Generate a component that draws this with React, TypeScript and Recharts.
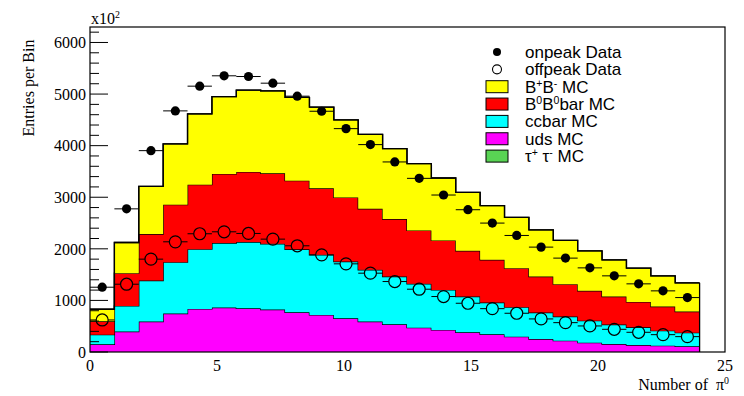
import { Area, ComposedChart, ReferenceLine, Scatter, XAxis, YAxis } from "recharts"

// 25 bins between 0 and 24
const binEdges = [
  0, 0.96, 1.92, 2.88, 3.84, 4.8, 5.76, 6.72, 7.68, 8.64, 9.6, 10.56, 11.52,
  12.48, 13.44, 14.4, 15.36, 16.32, 17.28, 18.24, 19.2, 20.16, 21.12, 22.08, 23.04, 24,
]

// MC contributions per bin (stacked bottom to top)
const udsMC = [149, 395, 589, 744, 835, 861, 848, 822, 771, 718, 653, 589, 537, 472, 427, 382, 343, 298, 252, 220, 181, 155, 136, 123, 110]
const ccbarMC = [187, 498, 796, 998, 1159, 1250, 1282, 1275, 1219, 1166, 1101, 1003, 926, 849, 777, 693, 615, 570, 512, 466, 427, 376, 344, 291, 265]
const b0b0barMC = [259, 635, 901, 1113, 1249, 1340, 1360, 1366, 1331, 1288, 1243, 1185, 1114, 1035, 958, 886, 829, 757, 699, 628, 577, 544, 491, 466, 408]
const bpbmMC = [234, 595, 924, 1178, 1372, 1501, 1585, 1599, 1614, 1573, 1503, 1443, 1365, 1295, 1211, 1133, 1051, 983, 906, 848, 776, 712, 654, 596, 557]
const tautauMC = [0, 0, 0, 0, 0, 0, 0, 0, 0, 0, 0, 0, 0, 0, 0, 0, 0, 0, 0, 0, 0, 0, 0, 0, 0]

const onpeakData = [1256, 2775, 3903, 4674, 5153, 5354, 5340, 5211, 4959, 4667, 4330, 4020, 3684, 3366, 3043, 2758, 2499, 2259, 2033, 1820, 1631, 1476, 1321, 1185, 1055]
const offpeakData = [621, 1314, 1800, 2136, 2292, 2330, 2298, 2188, 2059, 1884, 1709, 1528, 1366, 1217, 1075, 945, 840, 751, 641, 569, 505, 440, 382, 336, 298]

const xTicks = [0, 5, 10, 15, 20, 25]
const yTicks = [
  0, 200, 400, 600, 800, 1000, 1200, 1400, 1600, 1800, 2000, 2200, 2400, 2600, 2800, 3000,
  3200, 3400, 3600, 3800, 4000, 4200, 4400, 4600, 4800, 5000, 5200, 5400, 5600, 5800, 6000, 6200,
]

const W = 744
const H = 396
const margin = { top: 27, right: 19, bottom: 14, left: 0 }
const Y_AXIS_W = 90
const X_AXIS_H = 30
const X_MIN = 0
const X_MAX = 25
const Y_MAX = 6300
const PLOT_LEFT = margin.left + Y_AXIS_W
const PLOT_TOP = margin.top
const PLOT_W = W - PLOT_LEFT - margin.right
const PLOT_H = H - margin.top - margin.bottom - X_AXIS_H

const serif = "'Liberation Serif', 'DejaVu Serif', serif"
const sans = "'Liberation Sans', Arial, sans-serif"

const nBins = udsMC.length
// one row per bin edge; the closing edge repeats the last bin so the step ends at 24
const stackRows = binEdges.map((x, i) => {
  const b = Math.min(i, nBins - 1)
  return { x, uds: udsMC[b], ccbar: ccbarMC[b], b0: b0b0barMC[b], bpbm: bpbmMC[b], tau: tautauMC[b] }
})
const lastTotal = udsMC[nBins - 1] + ccbarMC[nBins - 1] + b0b0barMC[nBins - 1] + bpbmMC[nBins - 1] + tautauMC[nBins - 1]

const centers = onpeakData.map((_, i) => (binEdges[i] + binEdges[i + 1]) / 2)
const onpeakPts = onpeakData.map((y, i) => ({ x: centers[i], y }))
const offpeakPts = offpeakData.map((y, i) => ({ x: centers[i], y }))

// half bin width in pixels, for the horizontal error bars
const HALF_BIN_PX = ((binEdges[1] - binEdges[0]) / 2) * (PLOT_W / (X_MAX - X_MIN))

function DataMarker(props: any) {
  const { cx, cy, open } = props
  if (cx == null || cy == null) return null
  const r = open ? 6 : 4.6
  if (open) {
    return (
      <g>
        <line x1={cx - HALF_BIN_PX} x2={cx - r} y1={cy} y2={cy} stroke="#000" strokeWidth={1} />
        <line x1={cx + r} x2={cx + HALF_BIN_PX} y1={cy} y2={cy} stroke="#000" strokeWidth={1} />
        <circle cx={cx} cy={cy} r={r} fill="none" stroke="#000" strokeWidth={1.2} />
      </g>
    )
  }
  return (
    <g>
      <line x1={cx - HALF_BIN_PX} x2={cx + HALF_BIN_PX} y1={cy} y2={cy} stroke="#000" strokeWidth={1} />
      <circle cx={cx} cy={cy} r={r} fill="#000" />
    </g>
  )
}

// ticks point into the frame; labels only on the thousands
function YTick(props: any) {
  const { y, payload } = props
  const major = payload.value % 1000 === 0
  return (
    <g>
      <line x1={PLOT_LEFT} x2={PLOT_LEFT + (major ? 18 : 9)} y1={y} y2={y} stroke="#000" strokeWidth={1} />
      {major && (
        <text x={PLOT_LEFT - 4} y={y} dy="0.36em" textAnchor="end" style={{ fontFamily: serif, fontSize: 16 }} fill="#000">
          {payload.value}
        </text>
      )}
    </g>
  )
}

function XTick(props: any) {
  const { x, y, payload } = props
  return (
    <text x={x} y={y} dy="0.75em" textAnchor="middle" style={{ fontFamily: serif, fontSize: 16 }} fill="#000">
      {payload.value}
    </text>
  )
}

type Part = [string, "sup" | null]

const legendItems: { parts: Part[]; kind: "dot" | "circle" | "box"; color?: string }[] = [
  { parts: [["onpeak Data", null]], kind: "dot" },
  { parts: [["offpeak Data", null]], kind: "circle" },
  { parts: [["B", null], ["+", "sup"], ["B", null], ["-", "sup"], [" MC", null]], kind: "box", color: "#ffff00" },
  { parts: [["B", null], ["0", "sup"], ["B", null], ["0", "sup"], ["bar MC", null]], kind: "box", color: "#ff0000" },
  { parts: [["ccbar MC", null]], kind: "box", color: "#00ffff" },
  { parts: [["uds MC", null]], kind: "box", color: "#ff00ff" },
  { parts: [["\u03c4", null], ["+", "sup"], [" \u03c4", null], ["-", "sup"], [" MC", null]], kind: "box", color: "#59d454" },
]

function RichText({ parts, size }: { parts: Part[]; size: number }) {
  const lift = Math.round(size * 0.36)
  let up = false
  return (
    <>
      {parts.map(([t, kind], i) => {
        let dy = 0
        if (kind === "sup" && !up) {
          dy = -lift
          up = true
        } else if (kind !== "sup" && up) {
          dy = lift
          up = false
        }
        return (
          <tspan key={i} dy={dy} fontSize={kind === "sup" ? size * 0.62 : size} style={{ whiteSpace: "pre" }}>
            {t}
          </tspan>
        )
      })}
    </>
  )
}

function Overlay() {
  const legX = 497
  const legY0 = 52
  const legStep = 17.35
  return (
    <svg width={W} height={H} style={{ position: "absolute", left: 0, top: 0, pointerEvents: "none" }}>
      <rect x={PLOT_LEFT} y={PLOT_TOP} width={PLOT_W} height={PLOT_H} fill="none" stroke="#000" strokeWidth={1.2} />
      <text x={PLOT_LEFT + 1} y={24} style={{ fontFamily: serif }} fill="#000">
        <RichText parts={[["x10", null], ["2", "sup"]]} size={16} />
      </text>
      <text
        x={34}
        y={88}
        transform="rotate(-90 34 88)"
        textAnchor="middle"
        style={{ fontFamily: serif, fontSize: 16 }}
        fill="#000"
      >
        Entries per Bin
      </text>
      <text x={729} y={390} textAnchor="end" style={{ fontFamily: serif }} fill="#000">
        <RichText parts={[["Number of \u00a0\u03c0", null], ["0", "sup"]]} size={16} />
      </text>
      {legendItems.map((it, i) => {
        const cy = legY0 + i * legStep
        return (
          <g key={i}>
            {it.kind === "dot" && <circle cx={legX} cy={cy} r={4} fill="#000" />}
            {it.kind === "circle" && <circle cx={legX} cy={cy} r={4.5} fill="none" stroke="#000" strokeWidth={1.1} />}
            {it.kind === "box" && (
              <rect x={legX - 11} y={cy - 6} width={22} height={12} fill={it.color} stroke="#000" strokeWidth={1} />
            )}
            <text x={525} y={cy + 6} style={{ fontFamily: sans }} fill="#000">
              <RichText parts={it.parts} size={17} />
            </text>
          </g>
        )
      })}
    </svg>
  )
}

export default function App() {
  return (
    <div style={{ position: "absolute", left: 0, top: 0, width: W, height: H, background: "#fff" }}>
      <ComposedChart width={W} height={H} data={stackRows} margin={margin}>
        <XAxis
          type="number"
          dataKey="x"
          domain={[X_MIN, X_MAX]}
          ticks={xTicks}
          allowDataOverflow
          height={X_AXIS_H}
          tickLine={false}
          axisLine={false}
          tickSize={0}
          tickMargin={7}
          tick={<XTick />}
        />
        <YAxis
          type="number"
          domain={[0, Y_MAX]}
          ticks={yTicks}
          allowDataOverflow
          width={Y_AXIS_W}
          tickLine={false}
          axisLine={false}
          interval={0}
          tick={<YTick />}
        />
        <Area type="stepAfter" dataKey="uds" stackId="mc" stroke="#000" strokeWidth={1.3} fill="#ff00ff" fillOpacity={1} dot={false} activeDot={false} isAnimationActive={false} />
        <Area type="stepAfter" dataKey="ccbar" stackId="mc" stroke="#000" strokeWidth={1.3} fill="#00ffff" fillOpacity={1} dot={false} activeDot={false} isAnimationActive={false} />
        <Area type="stepAfter" dataKey="b0" stackId="mc" stroke="#000" strokeWidth={1.3} fill="#ff0000" fillOpacity={1} dot={false} activeDot={false} isAnimationActive={false} />
        <Area type="stepAfter" dataKey="bpbm" stackId="mc" stroke="#000" strokeWidth={1.3} fill="#ffff00" fillOpacity={1} dot={false} activeDot={false} isAnimationActive={false} />
        <Area type="stepAfter" dataKey="tau" stackId="mc" stroke="#000" strokeWidth={1.3} fill="#59d454" fillOpacity={1} dot={false} activeDot={false} isAnimationActive={false} />
        <ReferenceLine
          segment={[
            { x: binEdges[nBins], y: 0 },
            { x: binEdges[nBins], y: lastTotal },
          ]}
          stroke="#000"
          strokeWidth={1.3}
        />
        <Scatter data={offpeakPts} dataKey="y" shape={(p: any) => <DataMarker {...p} open />} isAnimationActive={false} />
        <Scatter data={onpeakPts} dataKey="y" shape={(p: any) => <DataMarker {...p} />} isAnimationActive={false} />
      </ComposedChart>
      <Overlay />
    </div>
  )
}
